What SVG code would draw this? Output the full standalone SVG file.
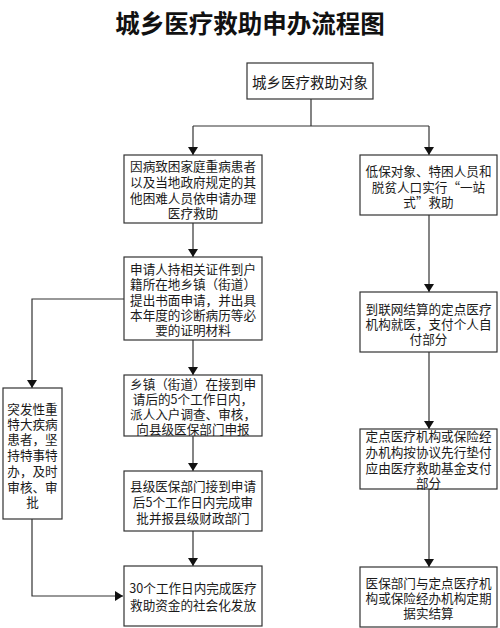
<svg xmlns="http://www.w3.org/2000/svg" width="500" height="628" viewBox="0 0 500 628">
<style>
.box{fill:#fff;stroke:#333;stroke-width:1.2}
.t{font-family:"Noto Sans CJK SC","Noto Sans",sans-serif;font-size:12.6px;fill:#1a1a1a;text-anchor:middle;dominant-baseline:central}
.title{font-family:"Noto Sans CJK SC","Noto Sans",sans-serif;font-size:24.5px;font-weight:700;fill:#111;text-anchor:middle;dominant-baseline:central}
.c{fill:none;stroke:#333;stroke-width:1.2}
</style>
<defs>
<marker id="ah" markerWidth="8" markerHeight="10" refX="8" refY="5" orient="auto" markerUnits="userSpaceOnUse" viewBox="0 0 8 10">
<path d="M0,0 L8,5 L0,10 z" fill="#111"/>
</marker>
</defs>
<rect width="500" height="628" fill="#fff"/>
<text class="title" x="250" y="22">城乡医疗救助申办流程图</text>

<g id="connectors">
<path class="c" d="M311,99 V126 M193,126 H429"/>
<path class="c" d="M193,126 V155" marker-end="url(#ah)"/>
<path class="c" d="M429,126 V155" marker-end="url(#ah)"/>
<path class="c" d="M193,223 V257" marker-end="url(#ah)"/>
<path class="c" d="M193,340 V375" marker-end="url(#ah)"/>
<path class="c" d="M193,436 V471" marker-end="url(#ah)"/>
<path class="c" d="M193,531 V566" marker-end="url(#ah)"/>
<path class="c" d="M124,299 H32 V388" marker-end="url(#ah)"/>
<path class="c" d="M32,519 V596 H123" marker-end="url(#ah)"/>
<path class="c" d="M429,215 V292" marker-end="url(#ah)"/>
<path class="c" d="M429,352 V429" marker-end="url(#ah)"/>
<path class="c" d="M429,489 V567" marker-end="url(#ah)"/>
</g>

<g id="n0">
<rect class="box" x="247" y="63" width="126" height="36"/>
<text class="t" x="310" y="81" style="font-size:14.5px">城乡医疗救助对象</text>
</g>

<g id="n1">
<rect class="box" x="124" y="155" width="138" height="68"/>
<text class="t" x="193" y="165">因病致困家庭重病患者</text>
<text class="t" x="193" y="181">以及当地政府规定的其</text>
<text class="t" x="193" y="197">他困难人员依申请办理</text>
<text class="t" x="193" y="212">医疗救助</text>
</g>

<g id="n2">
<rect class="box" x="124" y="257" width="138" height="83"/>
<text class="t" x="193" y="268">申请人持相关证件到户</text>
<text class="t" x="193" y="283">籍所在地乡镇（街道）</text>
<text class="t" x="193" y="299">提出书面申请，并出具</text>
<text class="t" x="193" y="314">本年度的诊断病历等必</text>
<text class="t" x="193" y="329">要的证明材料</text>
</g>

<g id="n3">
<rect class="box" x="124" y="375" width="138" height="61"/>
<text class="t" x="193" y="383">乡镇（街道）在接到申</text>
<text class="t" x="193" y="398">请后的5个工作日内，</text>
<text class="t" x="193" y="413">派人入户调查、审核，</text>
<text class="t" x="193" y="428">向县级医保部门申报</text>
</g>

<g id="n4">
<rect class="box" x="124" y="471" width="138" height="60"/>
<text class="t" x="193" y="485">县级医保部门接到申请</text>
<text class="t" x="193" y="501">后5个工作日内完成审</text>
<text class="t" x="193" y="517">批并报县级财政部门</text>
</g>

<g id="n5">
<rect class="box" x="124" y="566" width="138" height="60"/>
<text class="t" x="193" y="587">30个工作日内完成医疗</text>
<text class="t" x="193" y="604">救助资金的社会化发放</text>
</g>

<g id="side">
<rect class="box" x="3" y="388" width="59" height="131"/>
<text class="t" x="32.5" y="408">突发性重</text>
<text class="t" x="32.5" y="423">特大疾病</text>
<text class="t" x="32.5" y="438">患者，坚</text>
<text class="t" x="32.5" y="454">持特事特</text>
<text class="t" x="32.5" y="470">办，及时</text>
<text class="t" x="32.5" y="486">审核、审</text>
<text class="t" x="32.5" y="501">批</text>
</g>

<g id="r1">
<rect class="box" x="360" y="155" width="137" height="60"/>
<text class="t" x="428.5" y="170">低保对象、特困人员和</text>
<text class="t" x="428.5" y="186">脱贫人口实行“一站</text>
<text class="t" x="428.5" y="201">式”救助</text>
</g>

<g id="r2">
<rect class="box" x="360" y="292" width="137" height="60"/>
<text class="t" x="428.5" y="308">到联网结算的定点医疗</text>
<text class="t" x="428.5" y="323">机构就医，支付个人自</text>
<text class="t" x="428.5" y="338">付部分</text>
</g>

<g id="r3">
<rect class="box" x="360" y="429" width="137" height="60"/>
<text class="t" x="428.5" y="435">定点医疗机构或保险经</text>
<text class="t" x="428.5" y="451">办机构按协议先行垫付</text>
<text class="t" x="428.5" y="467">应由医疗救助基金支付</text>
<text class="t" x="428.5" y="482">部分</text>
</g>

<g id="r4">
<rect class="box" x="360" y="567" width="137" height="60"/>
<text class="t" x="428.5" y="582">医保部门与定点医疗机</text>
<text class="t" x="428.5" y="597">构或保险经办机构定期</text>
<text class="t" x="428.5" y="612">据实结算</text>
</g>
</svg>
